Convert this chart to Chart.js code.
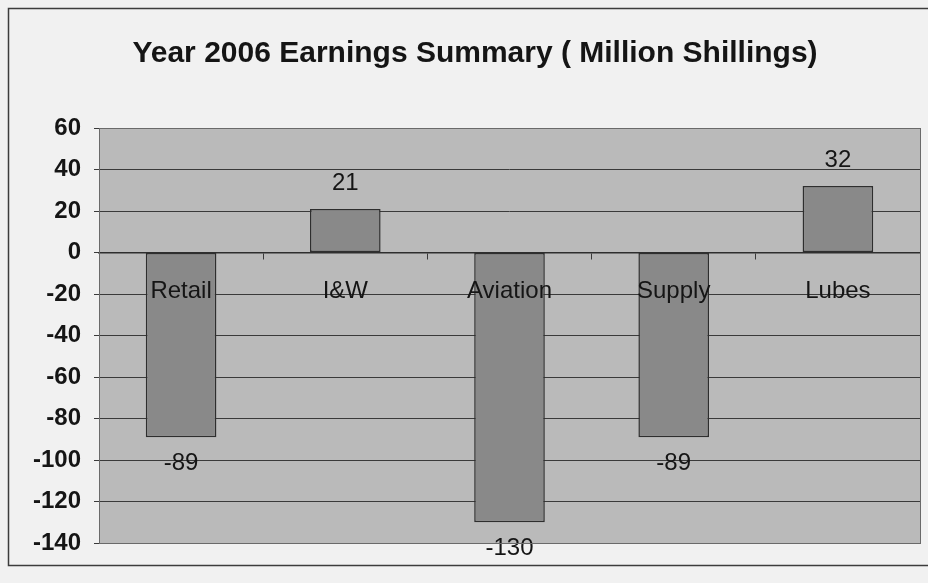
<!DOCTYPE html>
<html>
<head>
<meta charset="utf-8">
<script src="https://cdn.jsdelivr.net/npm/chart.js@4.4.0/dist/chart.umd.min.js"></script>
<style>
  html, body { margin: 0; padding: 0; background: #f1f1f1; }
  #wrap { width: 928px; height: 583px; }
</style>
</head>
<body>
<div id="wrap"><canvas id="graphique"></canvas></div>
<script>
// Données du graphique
const categories = ["Retail", "I&W", "Aviation", "Supply", "Lubes"];
const gains = [-89, 21, -130, -89, 32];
const titre = "Year 2006 Earnings Summary ( Million Shillings)";
const yMin = -140;
const yMax = 60;
const yPas = 20;

// fond gris de la zone de tracé + cadre extérieur
const fondPlugin = {
    id: "fond",
    beforeDraw(chart) {
        const ctx = chart.ctx;
        const a = chart.chartArea;
        ctx.save();
        ctx.fillStyle = "#f1f1f1";
        ctx.fillRect(0, 0, chart.width, chart.height);
        ctx.strokeStyle = "#3c3c3c";
        ctx.lineWidth = 1.5;
        ctx.strokeRect(8.5, 8.5, chart.width + 20, 557);
        ctx.fillStyle = "#bababa";
        ctx.fillRect(a.left, a.top, a.right - a.left, a.bottom - a.top);
        ctx.restore();
    },
    afterDraw(chart) {
        const ctx = chart.ctx;
        const a = chart.chartArea;
        ctx.save();
        ctx.strokeStyle = "#6a6a6a";
        ctx.lineWidth = 1;
        ctx.strokeRect(a.left + 0.5, a.top + 0.5, a.right - a.left, a.bottom - a.top);
        ctx.restore();
    }
};

// étiquettes de valeurs au-dessus / en dessous des barres
const etiquettesPlugin = {
    id: "etiquettes",
    afterDatasetsDraw(chart) {
        const ctx = chart.ctx;
        const meta = chart.getDatasetMeta(0);
        ctx.save();
        ctx.font = "24px 'Liberation Sans', Arial, sans-serif";
        ctx.fillStyle = "#151515";
        ctx.textAlign = "center";
        ctx.textBaseline = "middle";
        meta.data.forEach((barre, i) => {
            const v = gains[i];
            const y = v >= 0 ? barre.y - 26 : barre.y + 26;
            ctx.fillText(String(v), barre.x, y);
        });
        ctx.restore();
    }
};

const data = {
    labels: categories,
    datasets: [
        {
            label: "Earnings",
            data: gains,
            backgroundColor: "#898989",
            borderColor: "#2e2e2e",
            borderWidth: 1.5,
            borderSkipped: false,
            barPercentage: 0.43,
            categoryPercentage: 1,
        },
    ],
};

const config = {
    type: "bar",
    data: data,
    options: {
        responsive: false,
        animation: false,
        layout: { padding: { left: 30, right: 8, top: 0, bottom: 40 } },
        plugins: {
            legend: { display: false },
            tooltip: { enabled: false },
            title: {
                display: true,
                text: titre,
                color: "#151515",
                font: { family: "'Liberation Sans', Arial, sans-serif", size: 30, weight: "bold" },
                padding: { top: 36, bottom: 56 },
            },
        },
        scales: {
            x: {
                position: { y: 0 },
                grid: {
                    display: true,
                    offset: true,
                    drawOnChartArea: false,
                    drawTicks: true,
                    tickLength: 6,
                    color: "#3a3a3a",
                    z: 1,
                },
                border: { display: true, color: "#2e2e2e", width: 1.5, z: 1 },
                ticks: {
                    z: 1,
                    color: "#151515",
                    padding: 18,
                    font: { family: "'Liberation Sans', Arial, sans-serif", size: 24 },
                },
            },
            y: {
                min: yMin,
                max: yMax,
                afterFit(scale) { scale.width = 69; },
                grid: {
                    color: "#3a3a3a",
                    lineWidth: 1,
                    tickLength: 5,
                },
                border: { display: false },
                ticks: {
                    stepSize: yPas,
                    color: "#151515",
                    padding: 13,
                    font: { family: "'Liberation Sans', Arial, sans-serif", size: 24, weight: "bold" },
                },
            },
        },
    },
    plugins: [fondPlugin, etiquettesPlugin],
};

const canvas = document.querySelector("#graphique");
canvas.width = 928;
canvas.height = 583;
new Chart(canvas, config);
</script>
</body>
</html>
